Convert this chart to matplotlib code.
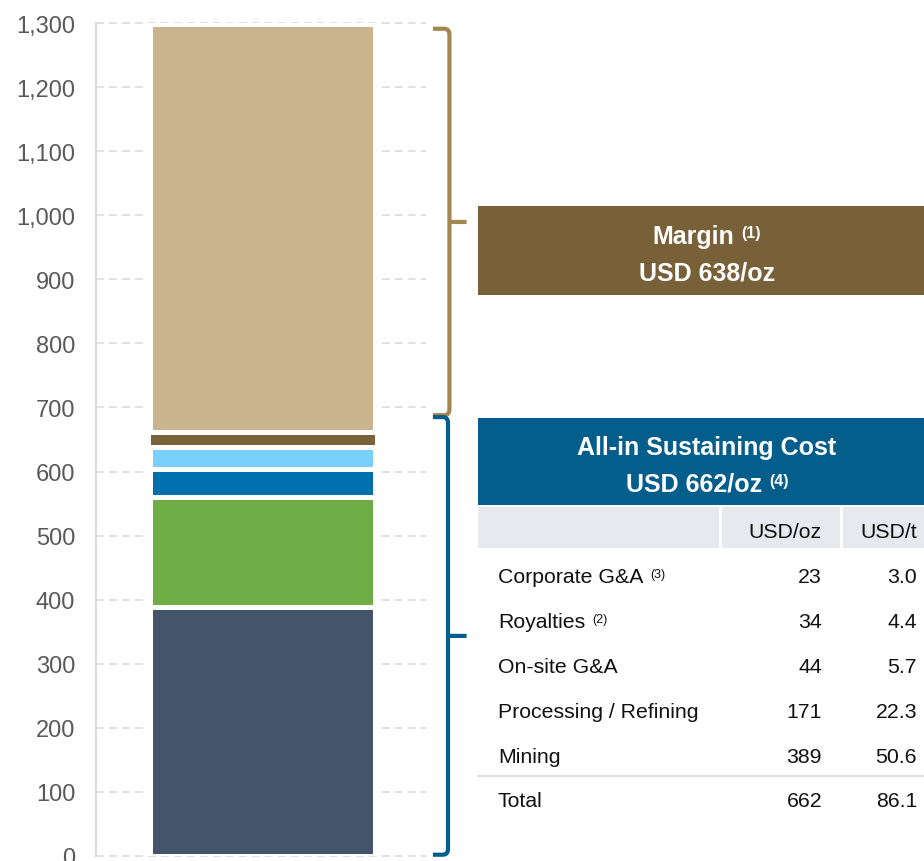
import matplotlib
matplotlib.use("Agg")
import matplotlib.pyplot as plt
import matplotlib.transforms as mtransforms
from matplotlib.path import Path
from matplotlib.patches import PathPatch, Rectangle
import numpy as np

plt.rcParams['font.family'] = ['Liberation Sans', 'DejaVu Sans']

# ---------------- data ----------------
categories = ["Mining", "Processing / Refining", "On-site G&A", "Royalties", "Corporate G&A"]
category_notes = ["", "", "", "(2)", "(3)"]
usd_oz = [389, 171, 44, 34, 23]
usd_t = [50.6, 22.3, 5.7, 4.4, 3.0]
total_oz = 662
total_t = 86.1
margin_oz = 638
yticks = list(range(0, 1301, 100))
ytick_labels = [f"{v:,}" for v in yticks]

# ---------------- style ----------------
seg_colors = ["#44546a", "#70ad47", "#0070ae", "#79d0fd", "#7a6239"]
margin_color = "#c9b48e"
margin_box = "#786138"
aisc_box = "#035e8b"
tan_bracket = "#a3874f"
W, H = 924, 862

fig = plt.figure(figsize=(W / 100, H / 100), dpi=100)
ax = fig.add_axes([96 / W, 5 / H, 330 / W, 833 / H])
ax.set_xlim(0, 1)
ax.set_ylim(0, 1300)

# stacked bar
bottom = 0
for v, c in zip(usd_oz, seg_colors):
    wdt = 0.695 if c == "#7a6239" else 0.68
    ax.bar(0.505, v, bottom=bottom, width=wdt, color=c, edgecolor="white",
           linewidth=3.6, zorder=3)
    bottom += v
ax.bar(0.505, margin_oz, bottom=bottom, width=0.68, color=margin_color,
       edgecolor="white", linewidth=3.6, zorder=3)

# axes styling
ax.set_yticks(yticks)
ax.set_yticklabels(ytick_labels)
ax.set_xticks([])
for s in ["top", "right", "bottom"]:
    ax.spines[s].set_visible(False)
ax.spines["left"].set_color("#d9d9d9")
ax.spines["left"].set_linewidth(1.5)
ax.tick_params(axis="y", length=0, pad=15, labelsize=17, labelcolor="#595959")
ax.set_axisbelow(True)
ax.yaxis.grid(True, color="#d9d9d9", linestyle=(0, (5.2, 3.3)), linewidth=1.1, zorder=0)
for gl in ax.get_ygridlines():
    gl.set_clip_on(False)

# brackets (x in axes fraction, y in data)
trans = mtransforms.blended_transform_factory(ax.transAxes, ax.transData)


def brace(bot, top, xv, color):
    xl, xt = 1.021, 1.123
    rx, ry = 0.016, 9
    mid = (bot + top) / 2
    verts = [(xl, top), (xv - rx, top), (xv, top), (xv, top - ry),
             (xv, bot + ry), (xv, bot), (xv - rx, bot), (xl, bot),
             (xv, mid), (xt, mid)]
    codes = [Path.MOVETO, Path.LINETO, Path.CURVE3, Path.CURVE3,
             Path.LINETO, Path.CURVE3, Path.CURVE3, Path.LINETO,
             Path.MOVETO, Path.LINETO]
    p = PathPatch(Path(verts, codes), transform=trans, facecolor="none",
                  edgecolor=color, linewidth=3.0, clip_on=False, capstyle="butt",
                  joinstyle="miter")
    ax.add_patch(p)


brace(688, 1291, 1.071, tan_bracket)
brace(2, 685, 1.0667, aisc_box)

# ---------------- overlay (boxes, table) ----------------
ov = fig.add_axes([0, 0, 1, 1])
ov.set_xlim(0, W)
ov.set_ylim(H, 0)
ov.axis("off")
ov.patch.set_visible(False)
renderer = fig.canvas.get_renderer()


def sup_text(x, yb, main, sup, size, ssize, weight, color, rise, gap, ha="center"):
    t1 = ov.text(0, yb, main, fontsize=size, fontweight=weight, color=color,
                 va="baseline", ha="left")
    if sup:
        t2 = ov.text(0, yb - rise, sup, fontsize=ssize, fontweight=weight,
                     color=color, va="baseline", ha="left")
        w2 = t2.get_window_extent(renderer).width
    else:
        t2, w2, gap = None, 0, 0
    w1 = t1.get_window_extent(renderer).width
    total = w1 + gap + w2
    x0 = x - total / 2 if ha == "center" else x
    t1.set_x(x0)
    if t2 is not None:
        t2.set_x(x0 + w1 + gap)


# Margin box
ov.add_patch(Rectangle((477.5, 207), W - 477.5, 89, color=margin_box, lw=0))
sup_text(707, 244, "Margin", "(1)", 18, 11.5, "bold", "white", 6, 7)
sup_text(707, 281, f"USD {margin_oz}/oz", "", 18, 11, "bold", "white", 0, 0)

# AISC box
ov.add_patch(Rectangle((477.5, 419), W - 477.5, 87, color=aisc_box, lw=0))
sup_text(707, 455, "All-in Sustaining Cost", "", 18, 11, "bold", "white", 0, 0)
sup_text(707, 491.5, f"USD {total_oz}/oz", "(4)", 18, 11.5, "bold", "white", 5, 7)

# header row
hdr = "#e7e9ee"
ov.add_patch(Rectangle((478, 507.5), 241, 41, color=hdr, lw=0))
ov.add_patch(Rectangle((722, 507.5), 118, 41, color=hdr, lw=0))
ov.add_patch(Rectangle((843, 507.5), W - 843, 41, color=hdr, lw=0))
txt = "#111111"
fs = 15.3
ov.text(822, 538.5, "USD/oz", fontsize=fs, color=txt, ha="right", va="baseline")
ov.text(917, 538.5, "USD/t", fontsize=fs, color=txt, ha="right", va="baseline")

# table rows (top row = last category)
row_y0 = 583.3
row_dy = 44.9
for i, idx in enumerate(range(len(categories) - 1, -1, -1)):
    yb = row_y0 + i * row_dy
    sup_text(498, yb, categories[idx], category_notes[idx], fs, 9, "normal",
             txt, 5, 7, ha="left")
    ov.text(822, yb, f"{usd_oz[idx]}", fontsize=fs, color=txt, ha="right", va="baseline")
    ov.text(917, yb, f"{usd_t[idx]:.1f}", fontsize=fs, color=txt, ha="right", va="baseline")

sep_y = row_y0 + (len(categories) - 1) * row_dy + 14
ov.plot([478, W], [sep_y, sep_y], color="#d9d9d9", lw=1.2)
yb = row_y0 + len(categories) * row_dy - 1
ov.text(498, yb, "Total", fontsize=fs, color=txt, ha="left", va="baseline")
ov.text(822, yb, f"{total_oz}", fontsize=fs, color=txt, ha="right", va="baseline")
ov.text(917, yb, f"{total_t:.1f}", fontsize=fs, color=txt, ha="right", va="baseline")

fig.savefig("out.png", dpi=100)
